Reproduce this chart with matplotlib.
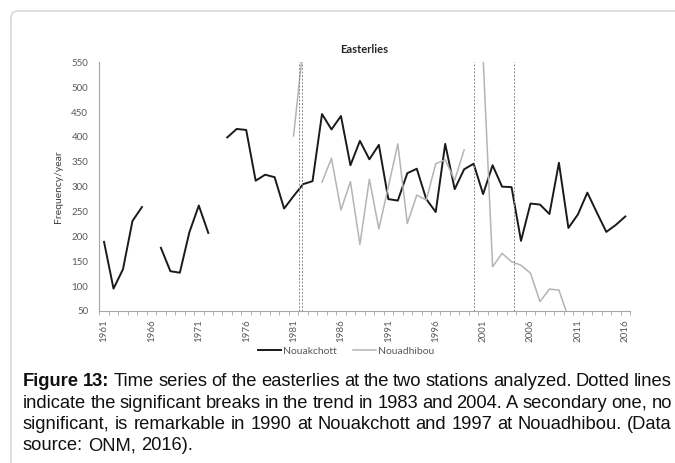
import numpy as np
import matplotlib
matplotlib.use("Agg")
from matplotlib import pyplot as plt
from matplotlib.patches import FancyBboxPatch
from matplotlib.transforms import IdentityTransform

nan = np.nan
years = list(range(1961, 2017))
# Nouakchott, valeurs
nouakchott = [189, 95, 134, 231, 259, nan, 177, 130, 127, 208,
              262, 207, nan, 399, 416, 414, 312, 324, 319, 256,
              281, 305, 311, 446, 415, 442, 343, 392, 355, 384,
              275, 272, 327, 336, 275, 249, 386, 295, 335, 346,
              285, 343, 300, 299, 191, 266, 264, 245, 348, 217,
              244, 288, 248, 209, 223, 240]
# Nouadhibou
nouadhibou = [nan] * 20 + [402, 580, nan, 309, 357, 253, 310, 184, 315, 215,
                           300, 386, 226, 283, 273, 346, 354, 313, 374, nan,
                           560, 139, 166, 149, 142, 126, 69, 94, 92, 37] + [nan] * 6
breaks = [1981.59, 1981.91, 2000.0, 2004.25]
label_years = list(range(1961, 2017, 5))

caption = [
    "Figure 13: Time series of the easterlies at the two stations analyzed. Dotted lines",
    "indicate the significant breaks in the trend in 1983 and 2004. A secondary one, no",
    "significant, is remarkable in 1990 at Nouakchott and 1997 at Nouadhibou. (Data",
    "source: ONM, 2016).",
]

W, H = 675, 463
fig = plt.figure(figsize=(W / 100, H / 100), dpi=100)

# cadre gris arrondi
frame = FancyBboxPatch((11, -30), 720, H - 11 + 30, boxstyle="round,pad=0,rounding_size=7",
                       transform=IdentityTransform(), fill=False, ec="#d2d2d2", lw=1.0)
fig.patches.append(frame)

ax = fig.add_axes([99.3 / W, 1 - 311 / H, (630 - 99.3) / W, (311 - 62.3) / H])
ax.plot(years, nouakchott, color="#1a1a1a", lw=1.4, label="Nouakchott")
ax.plot(years, nouadhibou, color="#b4b4b4", lw=1.1, label="Nouadhibou")
for b in breaks:
    ax.axvline(b, color="#8c8c8c", lw=0.7, ls=(0, (2, 1.6)))

ax.set_xlim(1960.5, 2016.5)
ax.set_ylim(50, 550)
ax.set_yticks(range(50, 551, 50))
ax.set_xticks(label_years)
ax.set_xticks(np.arange(1960.5, 2017, 1), minor=True)
ax.tick_params(axis="x", which="major", length=0, pad=6, labelrotation=90)
ax.tick_params(axis="x", which="minor", length=3, color="#a6a6a6", direction="out")
ax.tick_params(axis="y", length=0, pad=8)
for lab in ax.get_xticklabels() + ax.get_yticklabels():
    lab.set_fontfamily("Lato")
    lab.set_fontsize(7)
    lab.set_color("#595959")
for s in ["top", "right"]:
    ax.spines[s].set_visible(False)
for s in ["left", "bottom"]:
    ax.spines[s].set_color("#a6a6a6")
    ax.spines[s].set_linewidth(0.8)

ax.set_ylabel("Frequency/year", family="Lato", fontsize=7.5, color="#404040", labelpad=6)
ax.set_title("Easterlies", family="Lato", fontsize=8, fontweight="bold", color="#262626", pad=7)

fig.legend(loc="center", bbox_to_anchor=(346 / W, 1 - 351 / H), ncol=2, frameon=False,
           prop={"family": "Lato", "size": 7.5}, labelcolor="#595959",
           handlelength=2.2, handletextpad=0.2, columnspacing=1.5)

# légende de la figure, texte justifié
renderer = fig.canvas.get_renderer()
left, right = 23, 672
baselines = [386, 407.5, 429, 450.5]
for i, line in enumerate(caption):
    words = line.split(" ")
    texts = []
    for j, w in enumerate(words):
        bold = i == 0 and j < 2
        t = fig.text(0, 1 - baselines[i] / H, w, family="Liberation Sans", fontsize=13.2,
                     fontweight="bold" if bold else "normal", color="#111111", va="baseline")
        texts.append(t)
    widths = [t.get_window_extent(renderer).width for t in texts]
    if i < len(caption) - 1:
        gap = (right - left - sum(widths)) / (len(words) - 1)
    else:
        gap = 5.0
    x = left
    for t, wd in zip(texts, widths):
        t.set_x(x / W)
        x += wd + gap

fig.savefig("out.png", dpi=100)
